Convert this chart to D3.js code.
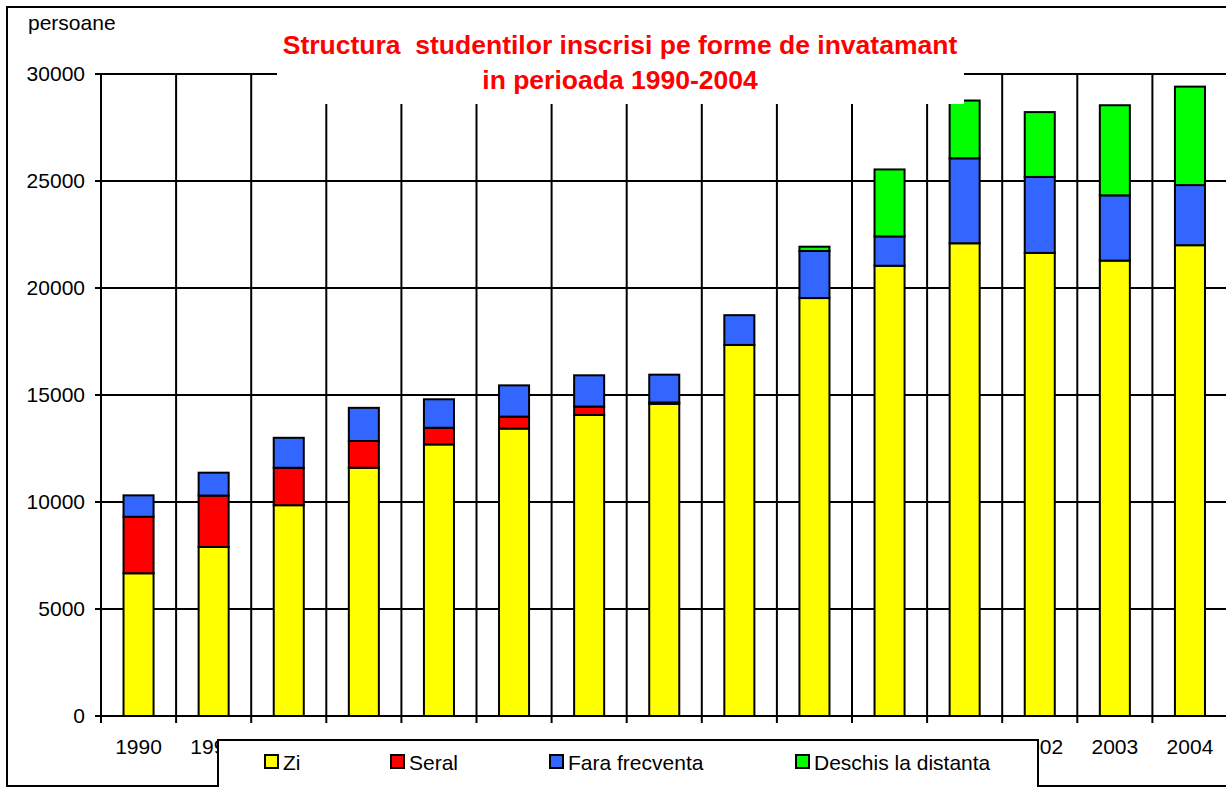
<!DOCTYPE html>
<html lang="ro">
  <head>
    <meta charset="utf-8">
    <title>Structura studentilor inscrisi pe forme de invatamant</title>
    <style>
      body { margin: 0; background: #fff; }
      svg text { font-family: "Liberation Sans", Arial, sans-serif; fill: #000; }
      .axis text { font-size: 21px; }
      .axis path, .axis line { stroke: #000; stroke-width: 2; }
      .title { font-size: 26.5px; font-weight: bold; fill: #ff0000; text-anchor: middle; }
      .legend_label { font-size: 21px; }
    </style>
  </head>
  <body>
    <div id="svg-area"></div>
    <script src="https://cdn.jsdelivr.net/npm/d3@7"></script>
    <script>
      const svg_width = 1226;
      const svg_height = 787;

      const years = ['1990','1991','1992','1993','1994','1995','1996','1997',
                     '1998','1999','2000','2001','2002','2003','2004'];
      const series_names = ['Zi', 'Seral', 'Fara frecventa', 'Deschis la distanta'];
      const series_colors = ['#ffff00', '#ff0000', '#3366ff', '#00ff00'];
      const zi      = [6670, 7900, 9850, 11600, 12690, 13430, 14070, 14590, 17340, 19530, 21040, 22090, 21640, 21280, 22000];
      const seral   = [2640, 2400, 1750, 1250, 780, 560, 390, 60, 0, 0, 0, 0, 0, 0, 0];
      const fara    = [1000, 1070, 1400, 1550, 1330, 1460, 1460, 1300, 1390, 2200, 1370, 3970, 3550, 3050, 2810];
      const deschis = [0, 0, 0, 0, 0, 0, 0, 0, 0, 200, 3130, 2700, 3030, 4210, 4600];
      const y_ticks = [0, 5000, 10000, 15000, 20000, 25000, 30000];

      const margin = {top: 74, right: -1.5, bottom: 71, left: 101};
      const plot_right = svg_width - margin.right;
      const plot_bottom = svg_height - margin.bottom;

      // table for the stack layout
      const table = years.map((yr, i) => ({
        year: yr,
        'Zi': zi[i],
        'Seral': seral[i],
        'Fara frecventa': fara[i],
        'Deschis la distanta': deschis[i]
      }));
      const stacked = d3.stack().keys(series_names)(table);

      const svg = d3.select('#svg-area')
        .append('svg')
        .attr('width', svg_width)
        .attr('height', svg_height);

      //scales
      const x_cell = d3.scaleBand()
        .domain(years)
        .range([margin.left, plot_right])
        .padding(0);
      const x_scale = d3.scaleBand()
        .domain(years)
        .range([margin.left, plot_right])
        .paddingInner(0.6)
        .paddingOuter(0.3);
      const y_scale = d3.scaleLinear()
        .domain([0, 30000])
        .range([plot_bottom, margin.top]);

      //outer frame
      svg.append('rect')
        .attr('x', 7).attr('y', 7)
        .attr('width', svg_width + 20).attr('height', 779)
        .attr('fill', 'none')
        .attr('stroke', '#000')
        .attr('stroke-width', 2);

      //horizontal grid + y ticks
      svg.append('g')
        .selectAll('line').data(y_ticks).enter()
        .append('line')
        .attr('x1', margin.left - 6)
        .attr('x2', plot_right)
        .attr('y1', d => y_scale(d))
        .attr('y2', d => y_scale(d))
        .attr('stroke', '#000')
        .attr('stroke-width', 2);

      //vertical grid at category boundaries (with tick below axis)
      const boundaries = years.map(d => x_cell(d)).concat([plot_right]);
      svg.append('g')
        .selectAll('line').data(boundaries).enter()
        .append('line')
        .attr('x1', d => d).attr('x2', d => d)
        .attr('y1', margin.top)
        .attr('y2', plot_bottom + 7)
        .attr('stroke', '#000')
        .attr('stroke-width', 2);

      //y axis labels
      const y_axis = d3.axisLeft(y_scale)
        .tickValues(y_ticks)
        .tickFormat(d3.format('d'))
        .tickSize(0).tickPadding(16);
      svg.append('g')
        .attr('class', 'axis')
        .attr('transform', `translate(${margin.left},0)`)
        .call(y_axis)
        .call(g => g.select('.domain').remove());

      //x axis labels
      const x_axis = d3.axisBottom(x_cell).tickSize(0).tickPadding(23);
      svg.append('g')
        .attr('class', 'axis')
        .attr('transform', `translate(0,${plot_bottom})`)
        .call(x_axis)
        .call(g => g.select('.domain').remove());

      //bars
      svg.append('g')
        .selectAll('g').data(stacked).enter()
        .append('g')
        .attr('fill', (d, i) => series_colors[i])
        .selectAll('rect').data(d => d.filter(p => p[1] - p[0] > 0)).enter()
        .append('rect')
        .attr('x', d => x_scale(d.data.year))
        .attr('y', d => y_scale(d[1]))
        .attr('width', x_scale.bandwidth())
        .attr('height', d => y_scale(d[0]) - y_scale(d[1]))
        .attr('stroke', '#000')
        .attr('stroke-width', 2);

      //title box (covers the grid)
      svg.append('rect')
        .attr('x', 277).attr('y', 20)
        .attr('width', 687).attr('height', 84)
        .attr('fill', '#fff');
      svg.append('text')
        .attr('class', 'title')
        .attr('x', 620).attr('y', 54)
        .text('Structura\u00a0 studentilor inscrisi pe forme de invatamant');
      svg.append('text')
        .attr('class', 'title')
        .attr('x', 620).attr('y', 89)
        .text('in perioada 1990-2004');

      //unit label
      svg.append('text')
        .attr('x', 28).attr('y', 30)
        .style('font-size', '21px')
        .text('persoane');

      //legend
      const legend = svg.append('g');
      legend.append('rect')
        .attr('x', 218).attr('y', 740)
        .attr('width', 820).attr('height', 60)
        .attr('fill', '#fff')
        .attr('stroke', '#000')
        .attr('stroke-width', 2);
      const legend_x = [265, 391, 550, 796];
      const items = legend.selectAll('g.item').data(series_names).enter()
        .append('g')
        .attr('class', 'item')
        .attr('transform', (d, i) => `translate(${legend_x[i]},755)`);
      items.append('rect')
        .attr('width', 13).attr('height', 13)
        .attr('fill', (d, i) => series_colors[i])
        .attr('stroke', '#000')
        .attr('stroke-width', 2);
      items.append('text')
        .attr('class', 'legend_label')
        .attr('x', 18).attr('y', 14.5)
        .text(d => d);
    </script>
  </body>
</html>
